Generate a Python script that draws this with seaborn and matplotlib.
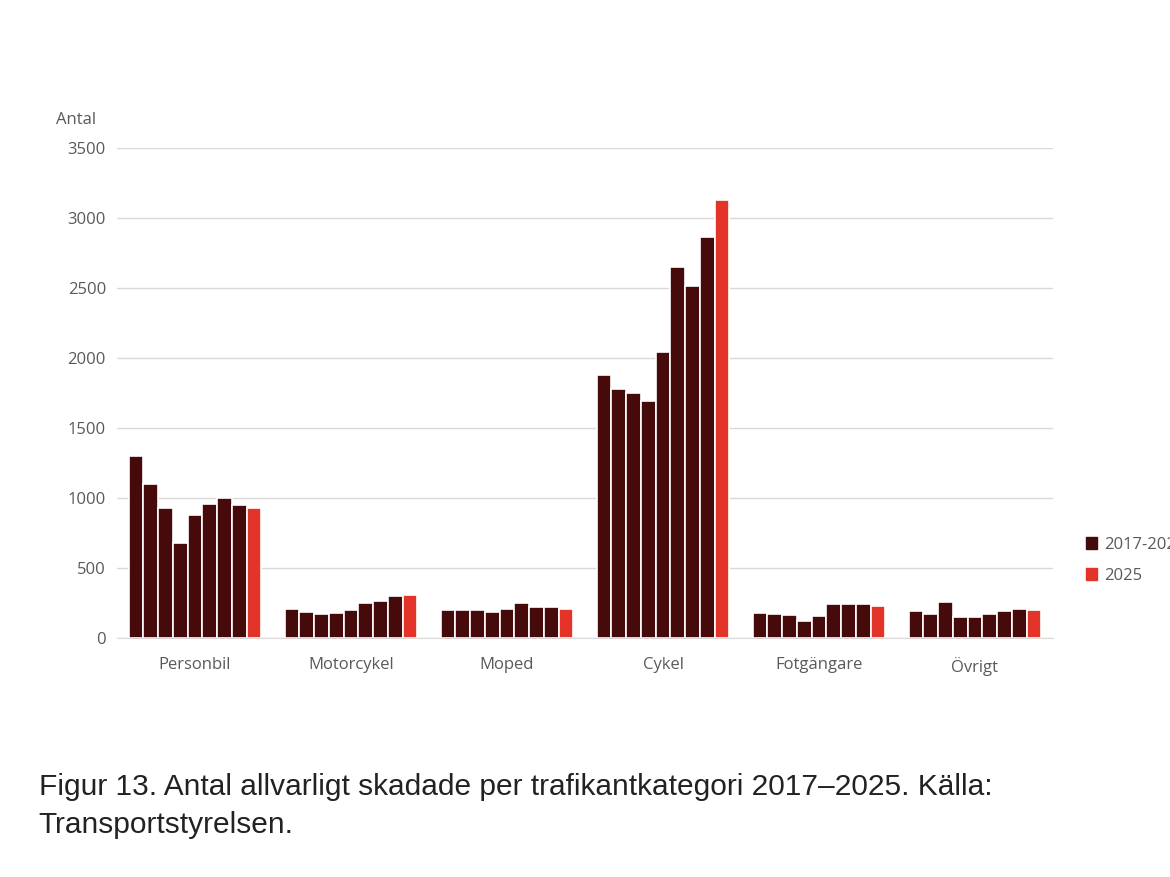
import numpy as np
import matplotlib.pyplot as plt
import seaborn as sns
import pandas as pd
from matplotlib.patches import Patch

categories = ['Personbil', 'Motorcykel', 'Moped', 'Cykel', 'Fotgängare', 'Övrigt']
years = ['2017', '2018', '2019', '2020', '2021', '2022', '2023', '2024', '2025']

personbil = [1300, 1100, 925, 675, 875, 955, 1000, 945, 930]
motorcykel = [205, 184, 167, 176, 196, 249, 261, 297, 304]
moped = [200, 200, 200, 184, 205, 244, 220, 220, 205]
cykel = [1875, 1775, 1750, 1690, 2045, 2650, 2515, 2865, 3130]
fotgangare = [176, 171, 159, 118, 152, 237, 241, 241, 225]
ovrigt = [193, 167, 254, 147, 147, 171, 193, 205, 200]

values = [personbil, motorcykel, moped, cykel, fotgangare, ovrigt]
rows = []
for cat, vals in zip(categories, values):
    for y, v in zip(years, vals):
        rows.append({'kategori': cat, 'ar': y, 'antal': v})
df = pd.DataFrame(rows)

dark = '#470a0a'
red = '#e3342a'
pal = {y: (red if y == '2025' else dark) for y in years}

sns.set_style('white')
plt.rcParams['font.family'] = ['Open Sans', 'DejaVu Sans']

fig = plt.figure(figsize=(11.7, 8.77), dpi=100)
ax = fig.add_axes([0.1, 0.273, 0.8, 0.558])
sns.barplot(data=df, x='kategori', y='antal', hue='ar', palette=pal,
            order=categories, hue_order=years, width=0.85, saturation=1,
            edgecolor='white', linewidth=1.2, ax=ax, legend=False)

ax.set_ylim(0, 3500)
ax.set_yticks(range(0, 3501, 500))
ax.yaxis.grid(True, color='#d9d9d9', linewidth=1)
ax.set_axisbelow(True)
for s in ['top', 'right', 'left']:
    ax.spines[s].set_visible(False)
ax.spines['bottom'].set_color('#d9d9d9')
ax.set_xlabel('')
ax.set_ylabel('')
ax.tick_params(axis='y', length=0, labelsize=12, colors='#595959', pad=8)
ax.tick_params(axis='x', length=0, labelsize=12, colors='#595959', pad=14)
ax.text(-0.065, 1.05, 'Antal', transform=ax.transAxes, fontsize=12, color='#595959')

handles = [Patch(color=dark, label='2017-2024'), Patch(color=red, label='2025')]
fig.legend(handles=handles, loc='upper left', bbox_to_anchor=(0.915, 0.405),
           frameon=False, fontsize=12, handlelength=0.7, handleheight=0.7,
           handletextpad=0.4, labelspacing=0.9, labelcolor='#595959')

fig.text(0.033, 0.043, 'Figur 13. Antal allvarligt skadade per trafikantkategori 2017–2025. Källa:\nTransportstyrelsen.',
         fontsize=21.5, color='#222222', family=['Liberation Sans', 'DejaVu Sans'], linespacing=1.45, va='bottom')

fig.savefig('out.png', dpi=100)
